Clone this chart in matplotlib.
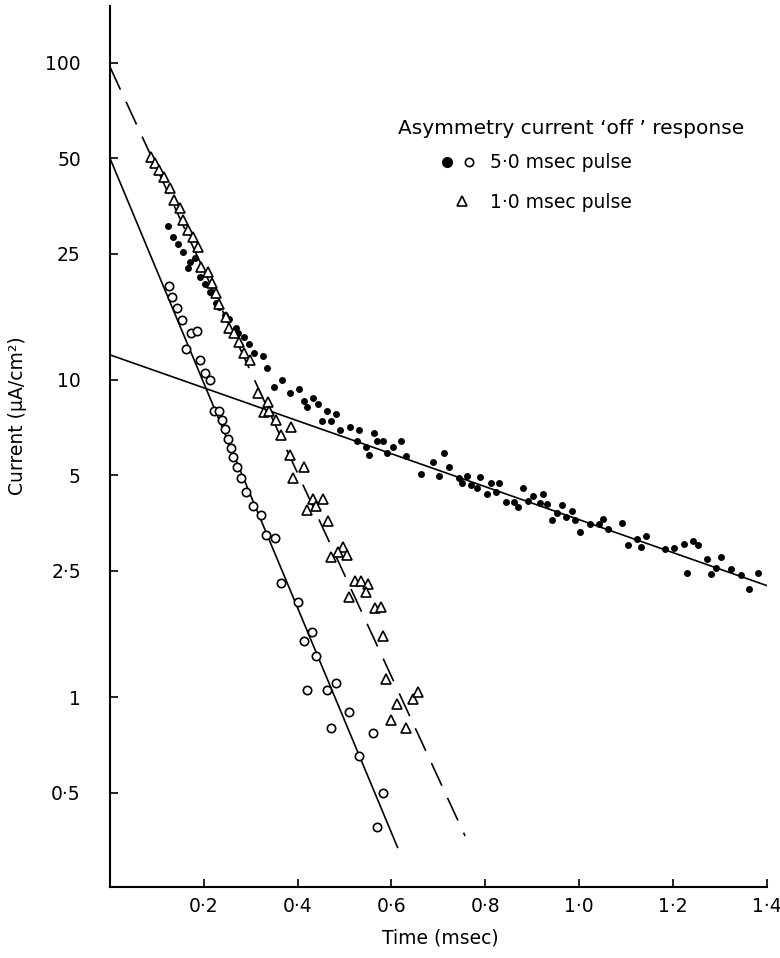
import matplotlib
matplotlib.use("Agg")
import matplotlib.pyplot as plt

plt.rcParams['font.family'] = ['DejaVu Sans']

# 5.0 msec pulse, filled points (slow component)
filled_t = [0.123, 0.134, 0.145, 0.155, 0.170, 0.181, 0.166, 0.191, 0.202, 0.213,
            0.226, 0.232, 0.245, 0.253, 0.268, 0.272, 0.285, 0.296, 0.306, 0.326,
            0.334, 0.349, 0.366, 0.383, 0.402, 0.413, 0.432, 0.443, 0.421, 0.462,
            0.481, 0.453, 0.472, 0.491, 0.511, 0.530, 0.562, 0.526, 0.545, 0.553,
            0.570, 0.583, 0.591, 0.604, 0.621, 0.632, 0.662, 0.689, 0.713, 0.723,
            0.702, 0.743, 0.762, 0.751, 0.770, 0.789, 0.783, 0.804, 0.813, 0.823,
            0.830, 0.845, 0.862, 0.870, 0.881, 0.891, 0.902, 0.917, 0.923, 0.932,
            0.943, 0.953, 0.964, 0.972, 0.985, 0.991, 1.002, 1.023, 1.043, 1.051,
            1.062, 1.091, 1.104, 1.123, 1.132, 1.143, 1.183, 1.202, 1.223, 1.230,
            1.243, 1.253, 1.272, 1.281, 1.291, 1.302, 1.323, 1.345, 1.362, 1.381]
filled_y = [30.6, 28.3, 26.9, 25.3, 23.6, 24.3, 22.6, 21.1, 20.1, 19.0,
            17.5, 17.0, 16.0, 15.6, 14.6, 14.1, 13.7, 13.0, 12.2, 11.9,
            10.9, 9.5, 10.0, 9.1, 9.4, 8.6, 8.8, 8.4, 8.2, 8.0,
            7.8, 7.4, 7.4, 6.95, 7.1, 6.95, 6.8, 6.4, 6.15, 5.8,
            6.4, 6.4, 5.9, 6.15, 6.4, 5.75, 5.05, 5.5, 5.9, 5.3,
            4.98, 4.9, 4.98, 4.73, 4.67, 4.94, 4.56, 4.37, 4.73, 4.43,
            4.73, 4.12, 4.12, 3.97, 4.56, 4.15, 4.31, 4.09, 4.37, 4.06,
            3.62, 3.80, 4.03, 3.70, 3.86, 3.62, 3.32, 3.51, 3.51, 3.65,
            3.39, 3.54, 3.02, 3.15, 2.97, 3.22, 2.93, 2.95, 3.04, 2.46,
            3.10, 3.02, 2.72, 2.44, 2.55, 2.76, 2.53, 2.43, 2.19, 2.46]

# 5.0 msec pulse, open points (fast component)
open_t = [0.126, 0.132, 0.143, 0.153, 0.172, 0.185, 0.162, 0.191, 0.202, 0.213,
          0.221, 0.232, 0.238, 0.245, 0.251, 0.257, 0.263, 0.270, 0.280, 0.290,
          0.304, 0.321, 0.332, 0.351, 0.364, 0.400, 0.430, 0.413, 0.440, 0.481,
          0.421, 0.462, 0.509, 0.472, 0.560, 0.530, 0.581, 0.570]
open_y = [19.8, 18.3, 16.9, 15.5, 14.1, 14.3, 12.5, 11.6, 10.5, 10.0,
          8.0, 8.0, 7.5, 7.0, 6.5, 6.1, 5.7, 5.3, 4.9, 4.45,
          4.0, 3.75, 3.24, 3.18, 2.29, 2.0, 1.60, 1.50, 1.35, 1.11,
          1.05, 1.05, 0.90, 0.80, 0.77, 0.65, 0.50, 0.39]

# 1.0 msec pulse, triangles
tri_t = [0.087, 0.096, 0.104, 0.115, 0.128, 0.136, 0.149, 0.155, 0.166, 0.177,
         0.187, 0.194, 0.209, 0.217, 0.226, 0.232, 0.247, 0.253, 0.264, 0.274,
         0.285, 0.298, 0.315, 0.336, 0.328, 0.338, 0.353, 0.385, 0.364, 0.383,
         0.413, 0.391, 0.432, 0.455, 0.440, 0.421, 0.464, 0.496, 0.487, 0.506,
         0.472, 0.523, 0.536, 0.551, 0.545, 0.509, 0.564, 0.577, 0.581, 0.589,
         0.611, 0.645, 0.657, 0.600, 0.632]
tri_y = [50.5, 48.4, 45.9, 43.6, 40.3, 37.0, 34.9, 32.0, 29.7, 28.2,
         26.3, 22.7, 21.9, 20.2, 18.8, 17.3, 15.8, 14.6, 14.1, 13.2,
         12.2, 11.6, 9.1, 8.5, 7.9, 8.0, 7.5, 7.1, 6.7, 5.8,
         5.3, 4.9, 4.2, 4.2, 4.0, 3.9, 3.6, 2.97, 2.87, 2.80,
         2.77, 2.32, 2.32, 2.27, 2.14, 2.07, 1.91, 1.92, 1.56, 1.14,
         0.95, 0.99, 1.04, 0.85, 0.80]

# fitted exponentials (end points)
fit_open_t = [0.0, 0.613]
fit_open_y = [50.0, 0.336]
fit_tri_t = [0.0, 0.757]
fit_tri_y = [97.0, 0.365]
fit_slow_t = [0.0, 1.403]
fit_slow_y = [12.0, 2.24]

x_ticks = [0.2, 0.4, 0.6, 0.8, 1.0, 1.2, 1.4]
x_labels = ['0·2', '0·4', '0·6', '0·8', '1·0', '1·2', '1·4']
y_ticks = [0.5, 1, 2.5, 5, 10, 25, 50, 100]
y_labels = ['0·5', '1', '2·5', '5', '10', '25', '50', '100']

fig = plt.figure(figsize=(7.8, 9.58), dpi=100)
ax = fig.add_axes([0.141, 0.0741, 0.842, 0.9196])
ax.set_yscale('log')

ax.plot(fit_slow_t, fit_slow_y, color='black', lw=1.2, zorder=2)
ax.plot(fit_open_t, fit_open_y, color='black', lw=1.2, zorder=2)
ax.plot(fit_tri_t, fit_tri_y, color='black', lw=1.2, dashes=(15, 8), zorder=2)

ax.plot(filled_t, filled_y, 'o', color='black', ms=5, mec='none', zorder=3)
ax.plot(open_t, open_y, 'o', mfc='white', mec='black', ms=6, mew=1.2, zorder=3)
ax.plot(tri_t, tri_y, '^', mfc='white', mec='black', ms=7, mew=1.2, zorder=3)

ax.set_xlim(0, 1.4)
ax.set_ylim(0.252, 151)
ax.set_xticks(x_ticks)
ax.set_xticklabels(x_labels)
ax.set_yticks(y_ticks)
ax.set_yticklabels(y_labels)
ax.minorticks_off()
ax.tick_params(axis='x', direction='in', length=6, width=1.2, pad=7, labelsize=13.5)
ax.tick_params(axis='y', direction='in', length=6, width=1.2, pad=21, labelsize=13.5)

for side in ['top', 'right']:
    ax.spines[side].set_visible(False)
for side in ['left', 'bottom']:
    ax.spines[side].set_linewidth(1.5)

fig.text(18 / 780, 1 - 416 / 958, 'Current (μA/cm²)', rotation=90,
         ha='center', va='center', fontsize=13.5)
fig.text(440 / 780, 1 - 938 / 958, 'Time (msec)', ha='center', va='center', fontsize=13.5)

# key
fig.text(398 / 780, 1 - 128 / 958, 'Asymmetry current ‘off ’ response',
         ha='left', va='center', fontsize=14.5)
ax.plot([447 / 780], [1 - 162 / 958], 'o', color='black', ms=8, mec='none',
        transform=fig.transFigure, clip_on=False)
ax.plot([469 / 780], [1 - 162 / 958], 'o', mfc='white', mec='black', ms=6, mew=1.2,
        transform=fig.transFigure, clip_on=False)
ax.plot([462 / 780], [1 - 201 / 958], '^', mfc='white', mec='black', ms=7, mew=1.2,
        transform=fig.transFigure, clip_on=False)
fig.text(490 / 780, 1 - 162 / 958, '5·0 msec pulse', ha='left', va='center', fontsize=13.5)
fig.text(490 / 780, 1 - 203 / 958, '1·0 msec pulse', ha='left', va='center', fontsize=13.5)

fig.savefig('out.png', dpi=100)
